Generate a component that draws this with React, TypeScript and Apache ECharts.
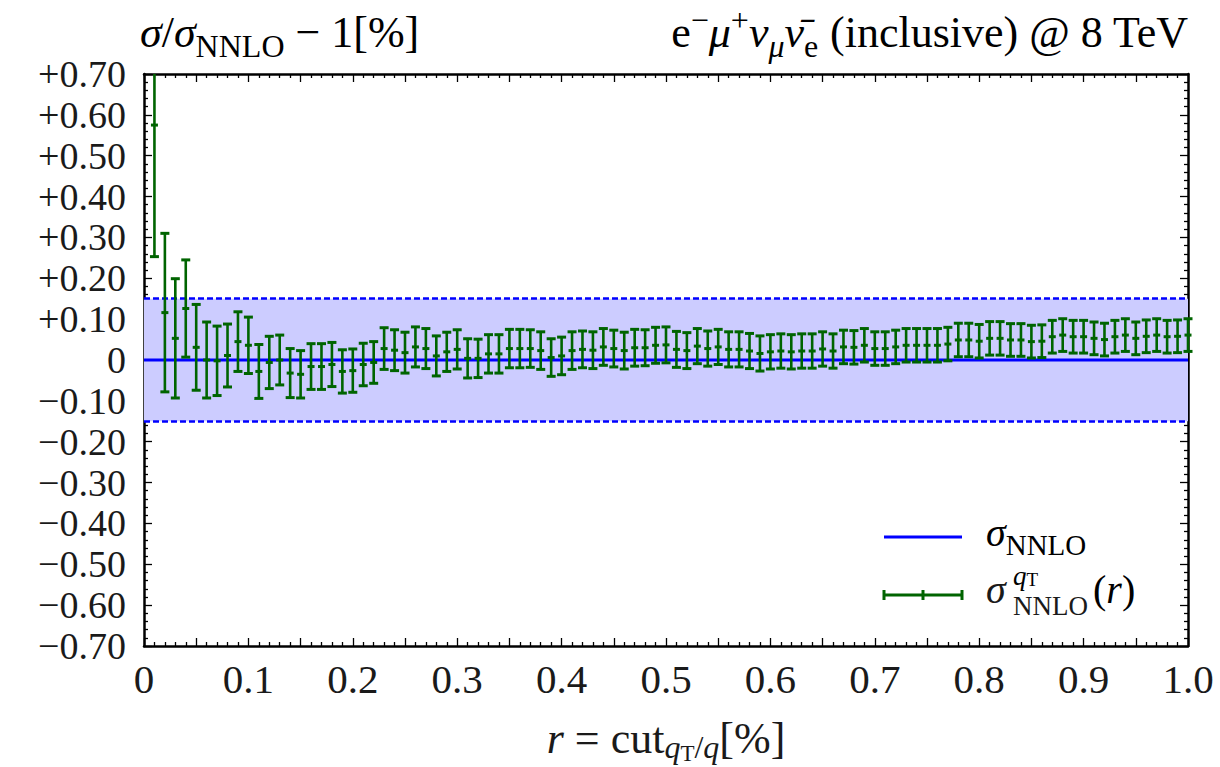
import React, { useEffect, useRef } from 'react';
import * as echarts from 'echarts';

// ---------- data ----------
const R_VALUES = [
  0.01, 0.02, 0.03, 0.04, 0.05, 0.06, 0.07, 0.08, 0.09, 0.10,
  0.11, 0.12, 0.13, 0.14, 0.15, 0.16, 0.17, 0.18, 0.19, 0.20,
  0.21, 0.22, 0.23, 0.24, 0.25, 0.26, 0.27, 0.28, 0.29, 0.30,
  0.31, 0.32, 0.33, 0.34, 0.35, 0.36, 0.37, 0.38, 0.39, 0.40,
  0.41, 0.42, 0.43, 0.44, 0.45, 0.46, 0.47, 0.48, 0.49, 0.50,
  0.51, 0.52, 0.53, 0.54, 0.55, 0.56, 0.57, 0.58, 0.59, 0.60,
  0.61, 0.62, 0.63, 0.64, 0.65, 0.66, 0.67, 0.68, 0.69, 0.70,
  0.71, 0.72, 0.73, 0.74, 0.75, 0.76, 0.77, 0.78, 0.79, 0.80,
  0.81, 0.82, 0.83, 0.84, 0.85, 0.86, 0.87, 0.88, 0.89, 0.90,
  0.91, 0.92, 0.93, 0.94, 0.95, 0.96, 0.97, 0.98, 0.99, 1.00,
];

const DEVIATION = [
  0.575, 0.116, 0.053, 0.126, 0.031, 0.000, -0.002, 0.011, 0.045, 0.036,
  -0.028, -0.006, 0.000, -0.032, -0.035, -0.016, -0.016, -0.011, -0.028, -0.026,
  -0.011, -0.006, 0.028, 0.024, 0.018, 0.032, 0.028, 0.010, 0.020, 0.026,
  0.004, 0.004, 0.015, 0.015, 0.028, 0.028, 0.028, 0.023, 0.006, 0.010,
  0.023, 0.026, 0.024, 0.032, 0.028, 0.023, 0.030, 0.030, 0.036, 0.037,
  0.026, 0.023, 0.034, 0.028, 0.032, 0.026, 0.026, 0.022, 0.016, 0.020,
  0.022, 0.020, 0.022, 0.022, 0.027, 0.022, 0.032, 0.031, 0.036, 0.028,
  0.028, 0.032, 0.036, 0.036, 0.036, 0.036, 0.039, 0.049, 0.049, 0.046,
  0.053, 0.053, 0.049, 0.049, 0.045, 0.046, 0.057, 0.061, 0.057, 0.057,
  0.053, 0.050, 0.057, 0.061, 0.053, 0.058, 0.061, 0.057, 0.058, 0.061,
];

const ERROR = [
  0.322, 0.194, 0.146, 0.119, 0.105, 0.093, 0.085, 0.077, 0.073, 0.069,
  0.066, 0.064, 0.061, 0.060, 0.058, 0.056, 0.056, 0.054, 0.053, 0.053,
  0.052, 0.051, 0.051, 0.050, 0.050, 0.049, 0.049, 0.049, 0.048, 0.048,
  0.048, 0.047, 0.047, 0.047, 0.047, 0.047, 0.046, 0.046, 0.046, 0.046,
  0.046, 0.045, 0.045, 0.045, 0.045, 0.045, 0.045, 0.044, 0.044, 0.044,
  0.044, 0.044, 0.043, 0.043, 0.043, 0.043, 0.043, 0.043, 0.043, 0.042,
  0.042, 0.042, 0.042, 0.042, 0.042, 0.042, 0.041, 0.041, 0.041, 0.041,
  0.041, 0.041, 0.041, 0.041, 0.041, 0.041, 0.041, 0.041, 0.041, 0.041,
  0.041, 0.041, 0.040, 0.040, 0.040, 0.040, 0.040, 0.040, 0.040, 0.040,
  0.040, 0.040, 0.040, 0.040, 0.040, 0.040, 0.040, 0.040, 0.040, 0.040,
];

const NNLO_LINE_X = [0, 1];
const NNLO_LINE_Y = [0, 0];
const NNLO_BAND = [-0.15, 0.15];

const X_MIN = 0;
const X_MAX = 1;
const Y_MIN = -0.7;
const Y_MAX = 0.7;

// ---------- styles ----------
const SERIF = '"Liberation Serif", "DejaVu Serif", serif';
const TEXT = '#1a1a1a';
const GREEN = '#006400';
const BLUE = '#0000ff';
const BAND_FILL = '#ccccff';

function richStyles(F: number, subDrop = 0.22, subSubDrop = 0.34) {
  const s = Math.round(F * 0.72);
  const ss = Math.round(F * 0.52);
  const P = Math.round(F * 0.15);
  const mb = P + 0.84 * F;
  const padFor = (size: number, shift: number) => Math.max(0, Math.round(mb + shift - 0.84 * size));
  const base = (size: number, italic: boolean, pad: number) => ({
    fontFamily: SERIF,
    fontSize: size,
    fontStyle: italic ? 'italic' : 'normal',
    lineHeight: size,
    verticalAlign: 'top',
    padding: [pad, 0, 0, 0],
    color: TEXT,
  });
  return {
    m: base(F, false, P),
    mi: base(F, true, P),
    b: base(s, false, padFor(s, subDrop * F)),
    bi: base(s, true, padFor(s, subDrop * F)),
    bb: base(ss, false, padFor(ss, subSubDrop * F)),
    p: base(s, false, padFor(s, -0.36 * F)),
    pi: base(s, true, padFor(s, -0.36 * F)),
  };
}

const yText = (v: number) => {
  const k = Math.round(v * 100);
  return k === 0 ? '0' : (k > 0 ? '+' : '\u2212') + (Math.abs(k) / 100).toFixed(2);
};
// labels are split over two coincident axes so neighbouring labels never collide
const yFormatterOdd = (v: number) => (Math.abs(Math.round(v * 10)) % 2 === 1 ? yText(v) : '');
const yFormatterEven = (v: number) => (Math.abs(Math.round(v * 10)) % 2 === 0 ? yText(v) : '');
const xFormatter = (v: number) => {
  const k = Math.round(v * 100);
  if (k % 10 !== 0) return '';
  if (k === 0) return '0';
  return (k / 100).toFixed(1);
};

const tickStyle = { color: '#000', width: 1.3 };
const axisLineStyle = { color: '#000', width: 2.5 };
const Y_LABEL_FONT = 38;

export default function App() {
  const ref = useRef<HTMLDivElement>(null);

  useEffect(() => {
    if (!ref.current) return;
    const chart = echarts.init(ref.current, undefined, { renderer: 'svg' });

    const errData = R_VALUES.map((r, i) => [r, DEVIATION[i], ERROR[i]]);
    const lineData = NNLO_LINE_X.map((x, i) => [x, NNLO_LINE_Y[i]]);

    const xCommon = {
      type: 'value',
      min: X_MIN,
      max: X_MAX,
      interval: 0.05,
      axisLine: { show: true, onZero: false, lineStyle: axisLineStyle },
      axisTick: { show: true, inside: true, length: 8, lineStyle: tickStyle },
      minorTick: { show: true, splitNumber: 5, length: 4, lineStyle: tickStyle },
      splitLine: { show: false },
      minorSplitLine: { show: false },
    };
    const yCommon = {
      type: 'value',
      min: Y_MIN,
      max: Y_MAX,
      interval: 0.1,
      axisLine: { show: true, onZero: false, lineStyle: axisLineStyle },
      axisTick: { show: true, inside: true, length: 8, lineStyle: tickStyle },
      minorTick: { show: true, splitNumber: 5, length: 4, lineStyle: tickStyle },
      splitLine: { show: false },
      minorSplitLine: { show: false },
    };
    const yLabelStyle = {
      fontFamily: SERIF,
      fontSize: Y_LABEL_FONT,
      color: TEXT,
      margin: 18,
      hideOverlap: false,
      showMinLabel: true,
      showMaxLabel: true,
    };

    const titleRich = richStyles(44);
    const legendRich = richStyles(40);
    const nameRich = richStyles(44, 0.12, 0.2);

    const LS = 40; // legend main font size
    const LSS = 27; // legend script size

    const option: any = {
      animation: false,
      grid: {
        left: 144,
        right: 32,
        top: 74,
        bottom: 121,
        containLabel: false,
        outerBoundsMode: 'none',
      },
      xAxis: [
        {
          ...xCommon,
          position: 'bottom',
          axisLabel: {
            formatter: xFormatter,
            fontFamily: SERIF,
            fontSize: 41,
            lineHeight: 30,
            color: TEXT,
            margin: 18,
            hideOverlap: false,
          },
          name: '{mi|r}{m| = cut}{bi|q}{bb|T}{b|/}{bi|q}{m|[%]}',
          nameLocation: 'middle',
          nameGap: 63,
          nameTextStyle: { verticalAlign: 'top', rich: nameRich },
        },
        {
          ...xCommon,
          position: 'top',
          axisLabel: { show: false },
        },
      ],
      yAxis: [
        {
          ...yCommon,
          position: 'left',
          axisLabel: { ...yLabelStyle, formatter: yFormatterOdd },
        },
        {
          ...yCommon,
          position: 'left',
          axisLine: { show: false },
          axisTick: { show: false },
          minorTick: { show: false },
          axisLabel: { ...yLabelStyle, formatter: yFormatterEven },
        },
        {
          ...yCommon,
          position: 'right',
          axisLabel: { show: false },
        },
      ],
      series: [
        {
          name: 'NNLO',
          type: 'line',
          xAxisIndex: 0,
          yAxisIndex: 0,
          data: lineData,
          symbol: 'none',
          z: 3,
          lineStyle: { color: BLUE, width: 3 },
          markArea: {
            silent: true,
            itemStyle: { color: BAND_FILL },
            data: [[{ yAxis: NNLO_BAND[0] }, { yAxis: NNLO_BAND[1] }]],
          },
          markLine: {
            silent: true,
            symbol: 'none',
            label: { show: false },
            lineStyle: { color: BLUE, width: 2.5, type: [6, 3] },
            data: NNLO_BAND.map((v) => ({ yAxis: v })),
          },
        },
        {
          name: 'qT',
          type: 'custom',
          xAxisIndex: 0,
          yAxisIndex: 0,
          z: 5,
          clip: false,
          data: errData,
          encode: { x: 0, y: 1 },
          renderItem: (params: any, api: any) => {
            const x = api.value(0);
            const y = api.value(1);
            const e = api.value(2);
            const hiV = Math.min(y + e, Y_MAX);
            const loV = Math.max(y - e, Y_MIN);
            const top = api.coord([x, hiV]);
            const bot = api.coord([x, loV]);
            const mid = api.coord([x, y]);
            const cap = 4.5;
            const st = { stroke: GREEN, lineWidth: 2.6 };
            const capSt = { stroke: GREEN, lineWidth: 3 };
            const children: any[] = [
              { type: 'line', shape: { x1: top[0], y1: top[1], x2: bot[0], y2: bot[1] }, style: st },
              { type: 'line', shape: { x1: mid[0] - 3.5, y1: mid[1], x2: mid[0] + 3.5, y2: mid[1] }, style: capSt },
              { type: 'line', shape: { x1: bot[0] - cap, y1: bot[1], x2: bot[0] + cap, y2: bot[1] }, style: capSt },
            ];
            if (y + e <= Y_MAX) {
              children.push({ type: 'line', shape: { x1: top[0] - cap, y1: top[1], x2: top[0] + cap, y2: top[1] }, style: capSt });
            }
            return { type: 'group', children };
          },
        },
      ],
      graphic: [
        {
          type: 'text',
          x: 140,
          y: 3,
          style: {
            text: '{mi|σ}{m|/}{mi|σ}{b|NNLO}{m| \u2212 1[%]}',
            rich: titleRich,
            align: 'left',
            verticalAlign: 'top',
          },
        },
        {
          type: 'text',
          x: 1188,
          y: 3,
          style: {
            text: '{m|e}{p|\u2212}{mi|μ}{p|+}{mi|ν}{bi|μ}{mi|ν\u0304}{b|e}{m| (inclusive) @ 8 TeV}',
            rich: titleRich,
            align: 'right',
            verticalAlign: 'top',
          },
        },
        // legend
        { type: 'line', shape: { x1: 884, y1: 537, x2: 962, y2: 537 }, style: { stroke: BLUE, lineWidth: 3 } },
        { type: 'line', shape: { x1: 884, y1: 595, x2: 962, y2: 595 }, style: { stroke: GREEN, lineWidth: 3 } },
        { type: 'line', shape: { x1: 884, y1: 590, x2: 884, y2: 600 }, style: { stroke: GREEN, lineWidth: 3 } },
        { type: 'line', shape: { x1: 962, y1: 590, x2: 962, y2: 600 }, style: { stroke: GREEN, lineWidth: 3 } },
        { type: 'line', shape: { x1: 923, y1: 590, x2: 923, y2: 600 }, style: { stroke: GREEN, lineWidth: 3 } },
        {
          type: 'text',
          x: 986,
          y: 506,
          style: { text: '{mi|σ}{b|NNLO}', rich: legendRich, align: 'left', verticalAlign: 'top' },
        },
        // second legend entry: sigma, stacked sup/sub, (r)
        {
          type: 'text',
          x: 986,
          y: 603 - 0.3375 * LS,
          style: {
            text: 'σ',
            fontFamily: SERIF,
            fontStyle: 'italic',
            fontSize: LS,
            fill: TEXT,
            align: 'left',
            verticalAlign: 'middle',
          },
        },
        {
          type: 'text',
          x: 1013,
          y: 562,
          style: {
            text: '{q|q}{t|T}',
            align: 'left',
            verticalAlign: 'top',
            rich: {
              q: { fontFamily: SERIF, fontStyle: 'italic', fontSize: LSS, lineHeight: 20, verticalAlign: 'top', color: TEXT },
              t: { fontFamily: SERIF, fontSize: 19, lineHeight: 14, verticalAlign: 'top', padding: [8, 0, 0, 0], color: TEXT },
            },
          },
        },
        {
          type: 'text',
          x: 1013,
          y: 615 - 0.3375 * LSS,
          style: {
            text: 'NNLO',
            fontFamily: SERIF,
            fontSize: LSS,
            fill: TEXT,
            align: 'left',
            verticalAlign: 'middle',
          },
        },
        {
          type: 'text',
          x: 1093,
          y: 603 - 0.3375 * LS,
          style: {
            text: '{a|(}{b|r}{a|)}',
            align: 'left',
            verticalAlign: 'middle',
            rich: {
              a: { fontFamily: SERIF, fontSize: LS, color: TEXT },
              b: { fontFamily: SERIF, fontStyle: 'italic', fontSize: LS, color: TEXT },
            },
          },
        },
      ],
    };

    chart.setOption(option);
    return () => chart.dispose();
  }, []);

  return (
    <div
      ref={ref}
      style={{ position: 'absolute', left: 0, top: 0, width: 1220, height: 767, background: '#fff' }}
    />
  );
}
